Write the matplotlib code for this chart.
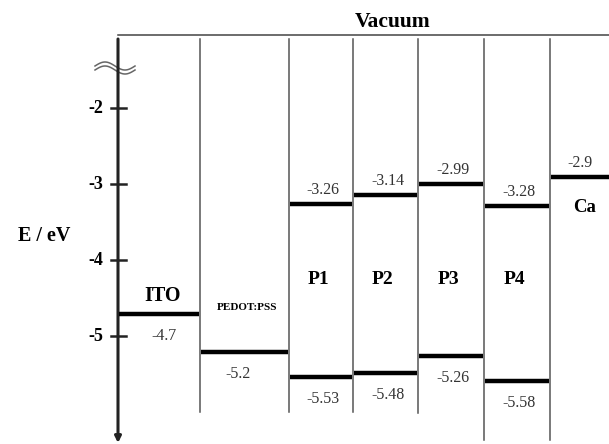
import matplotlib.pyplot as plt
import numpy as np

# energy levels in eV
AXIS_TICKS = [-2, -3, -4, -5]
ITO_LEVEL = -4.7
PEDOT_LEVEL = -5.2
CA_LEVEL = -2.9
POLYMERS = ["P1", "P2", "P3", "P4"]
LUMO = [-3.26, -3.14, -2.99, -3.28]
HOMO = [-5.53, -5.48, -5.26, -5.58]

# layout, in figure pixels
WIDTH, HEIGHT = 609, 444
COLUMN_EDGES = [118, 200, 289, 353, 418, 484, 550, 609]
EDGE_BOTTOMS = [412, 412, 412, 413, 440, 440]  # inner edges 200 ... 550
TOP_ROW = 39
VALUE_COLOR = "#333333"

plt.rcParams["font.family"] = ["Liberation Serif", "DejaVu Serif"]


def ev(row):
    """Convert a pixel row of the layout to the energy scale."""
    return -(row + 43.5) / 76.0


def draw_level(ax, x0, x1, energy):
    ax.plot([x0 + 1, x1 - 1], [energy, energy], color="black", lw=3.2,
            solid_capstyle="butt", zorder=3)


def value_label(ax, x, energy, above):
    ax.annotate(f"{energy:g}", (x, energy), xytext=(0, 10 if above else -16),
                textcoords="offset points", ha="center", va="center",
                fontsize=11.5, color=VALUE_COLOR)


fig = plt.figure(figsize=(WIDTH / 100, HEIGHT / 100), dpi=100)
ax = fig.add_axes([0, 0, 1, 1])
ax.set_xlim(0, WIDTH)
ax.set_ylim(ev(HEIGHT), ev(0))
ax.set_axis_off()

centers = [(a + b) / 2 for a, b in zip(COLUMN_EDGES[:-1], COLUMN_EDGES[1:])]

# vacuum line and column separators
ax.plot([COLUMN_EDGES[0], WIDTH], [ev(35), ev(35)], color="#444444", lw=1.1)
ax.text(393, ev(22), "Vacuum", ha="center", va="center", fontsize=15.5,
        fontweight="bold")
for x, bottom in zip(COLUMN_EDGES[1:-1], EDGE_BOTTOMS):
    ax.plot([x, x], [ev(TOP_ROW), ev(bottom)], color="#555555", lw=1.1)

# energy axis with arrow
ax.annotate("", xy=(COLUMN_EDGES[0], ev(443)), xytext=(COLUMN_EDGES[0], ev(TOP_ROW)),
            arrowprops=dict(arrowstyle="-|>", lw=2.2, color="#222222",
                            mutation_scale=9, shrinkA=0, shrinkB=0))
for tick in AXIS_TICKS:
    ax.plot([111, 126], [tick, tick], color="#222222", lw=1.8)
    ax.text(103, tick, f"{tick}", ha="right", va="center", fontsize=13,
            fontweight="bold")
ax.text(44, ev(236), "E / eV", ha="center", va="center", fontsize=14.5,
        fontweight="bold")

# axis break mark
t = np.linspace(0, 1, 80)
wave_x = 95 + 40 * t
for shift in (0, 4):
    ax.plot(wave_x, [ev(66 + shift - 4 * np.sin(2 * np.pi * v)) for v in t],
            color="#666666", lw=1.1)

# electrodes
draw_level(ax, COLUMN_EDGES[0], COLUMN_EDGES[1], ITO_LEVEL)
value_label(ax, centers[0] + 5, ITO_LEVEL, above=False)
ax.annotate("ITO", (centers[0] + 4, ITO_LEVEL), xytext=(0, 13),
            textcoords="offset points", ha="center", va="center",
            fontsize=14.5, fontweight="bold")

draw_level(ax, COLUMN_EDGES[1], COLUMN_EDGES[2], PEDOT_LEVEL)
value_label(ax, centers[1] - 7, PEDOT_LEVEL, above=False)
ax.text(centers[1] + 3, ev(307), "PEDOT:PSS", ha="center", va="center",
        fontsize=8, fontweight="bold")

draw_level(ax, COLUMN_EDGES[6], WIDTH + 2, CA_LEVEL)
value_label(ax, centers[6], CA_LEVEL, above=True)
ax.annotate("Ca", (centers[6] + 5, CA_LEVEL), xytext=(0, -22),
            textcoords="offset points", ha="center", va="center",
            fontsize=13.5, fontweight="bold")

# polymers
for i, (name, lumo, homo) in enumerate(zip(POLYMERS, LUMO, HOMO)):
    x0, x1 = COLUMN_EDGES[i + 2], COLUMN_EDGES[i + 3]
    xc = centers[i + 2]
    draw_level(ax, x0, x1, lumo)
    draw_level(ax, x0, x1, homo)
    value_label(ax, xc + 2, lumo, above=True)
    value_label(ax, xc + 2, homo, above=False)
    ax.text(xc - 3, ev(280), name, ha="center", va="center", fontsize=14,
            fontweight="bold")

fig.savefig("out.png", dpi=100)
